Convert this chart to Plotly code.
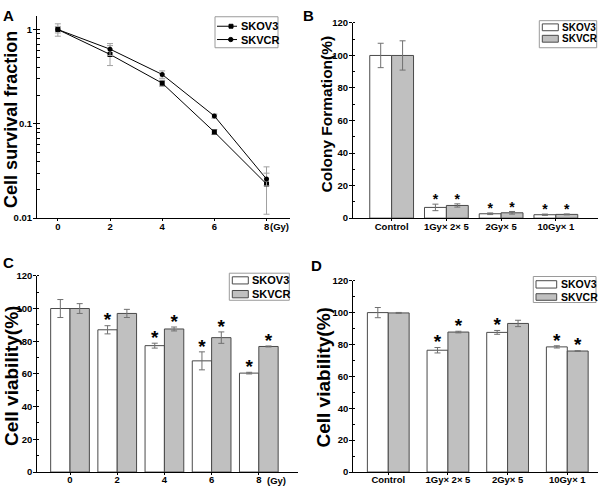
import plotly.graph_objects as go

# ---------------- DATA ----------------
series_names = ["SKOV3", "SKVCR"]

# Panel A: clonogenic survival curve
dose_a = [0, 2, 4, 6, 8]
skov3_surv = [1.0, 0.545, 0.27, 0.082, 0.023]
skov3_surv_err = [0.15, 0.13, 0.02, 0.005, 0.012]
skvcr_surv = [1.0, 0.62, 0.334, 0.121, 0.026]
skvcr_surv_err = [0.08, 0.09, 0.03, 0.006, 0.004]

# Panel B: colony formation
cats_b = ["Control", "1Gy× 2× 5", "2Gy× 5", "10Gy× 1"]
skov3_col = [100, 6.6, 2.7, 2.1]
skov3_col_err = [7.5, 2.0, 0.5, 0.4]
skvcr_col = [100, 7.8, 3.3, 2.3]
skvcr_col_err = [9.0, 1.0, 0.8, 0.3]
sig_b_skov3 = [False, True, True, True]
sig_b_skvcr = [False, True, True, True]

# Panel C: cell viability vs dose
cats_c = ["0", "2", "4", "6", "8"]
skov3_via_c = [100, 87.0, 77.3, 68.0, 60.5]
skov3_via_c_err = [5.5, 2.5, 1.5, 5.5, 0.5]
skvcr_via_c = [100, 97.0, 87.5, 82.2, 76.8]
skvcr_via_c_err = [3.0, 2.5, 1.2, 3.5, 0.3]
sig_c_skov3 = [False, True, True, True, True]
sig_c_skvcr = [False, False, True, True, True]

# Panel D: cell viability vs fractionation
cats_d = ["Control", "1Gy× 2× 5", "2Gy× 5", "10Gy× 1"]
skov3_via_d = [100, 76.4, 87.6, 78.5]
skov3_via_d_err = [3.2, 1.7, 1.2, 0.7]
skvcr_via_d = [99.8, 87.8, 93.2, 75.9]
skvcr_via_d_err = [0.3, 0.5, 2.0, 0.2]
sig_d_skov3 = [False, True, True, True]
sig_d_skvcr = [False, True, False, True]

# ---------------- STYLE ----------------
FONT = "Liberation Sans, Arial, sans-serif"
GREY = "#c0c0c0"
EDGE = "#4a4a4a"
ERRC = "#707070"
LEGEND_EDGE = "#9a9a9a"

fig = go.Figure()


def px_x(p):
    return p / 600.0


def px_y(p):
    return 1 - p / 492.0


# ---------- Panel A ----------
fig.add_trace(go.Scatter(
    x=dose_a, y=skov3_surv, name=series_names[0], mode="lines+markers",
    line=dict(color="black", width=1),
    marker=dict(symbol="square", size=5, color="black"),
    error_y=dict(type="data", array=skov3_surv_err, color="#a0a0a0", thickness=1, width=3),
    xaxis="x", yaxis="y", showlegend=False))
fig.add_trace(go.Scatter(
    x=dose_a, y=skvcr_surv, name=series_names[1], mode="lines+markers",
    line=dict(color="black", width=1),
    marker=dict(symbol="circle", size=5, color="black"),
    error_y=dict(type="data", array=skvcr_surv_err, color="#a0a0a0", thickness=1, width=3),
    xaxis="x", yaxis="y", showlegend=False))


def add_bar_panel(xa, ya, v1, e1, v2, e2, s1, s2, w, star_size, pad):
    idx = list(range(len(v1)))
    fig.add_trace(go.Bar(
        x=idx, y=v1, name=series_names[0], width=w, offset=-w,
        marker=dict(color="white", line=dict(color=EDGE, width=1)),
        error_y=dict(type="data", array=e1, color=ERRC, thickness=1, width=3),
        xaxis=xa, yaxis=ya, showlegend=False))
    fig.add_trace(go.Bar(
        x=idx, y=v2, name=series_names[1], width=w, offset=0,
        marker=dict(color=GREY, line=dict(color=EDGE, width=1)),
        error_y=dict(type="data", array=e2, color=ERRC, thickness=1, width=3),
        xaxis=xa, yaxis=ya, showlegend=False))
    sx, sy = [], []
    for i in idx:
        if s1[i]:
            sx.append(i - w / 2)
            sy.append(v1[i] + e1[i] + pad)
        if s2[i]:
            sx.append(i + w / 2)
            sy.append(v2[i] + e2[i] + pad)
    fig.add_trace(go.Scatter(
        x=sx, y=sy, mode="text", text=["*"] * len(sx),
        textposition="middle center",
        textfont=dict(family=FONT, size=star_size, color="black", weight="bold"),
        showlegend=False, hoverinfo="skip", xaxis=xa, yaxis=ya))


add_bar_panel("x2", "y2", skov3_col, skov3_col_err, skvcr_col, skvcr_col_err,
              sig_b_skov3, sig_b_skvcr, 0.4, 14, 2.0)
add_bar_panel("x3", "y3", skov3_via_c, skov3_via_c_err, skvcr_via_c, skvcr_via_c_err,
              sig_c_skov3, sig_c_skvcr, 0.41, 19, 2.5)
add_bar_panel("x4", "y4", skov3_via_d, skov3_via_d_err, skvcr_via_d, skvcr_via_d_err,
              sig_d_skov3, sig_d_skvcr, 0.35, 19, 2.5)

tickfont = dict(family=FONT, size=9.5, color="black", weight="bold")
common_x = dict(showline=True, linecolor="black", linewidth=1, showgrid=False, zeroline=False,
                ticks="outside", ticklen=2, tickcolor="black", tickfont=tickfont,
                ticklabelstandoff=-3, fixedrange=True)
common_y = dict(showline=True, linecolor="black", linewidth=1, showgrid=False, zeroline=False,
                ticks="outside", ticklen=3, tickcolor="black", tickfont=tickfont,
                ticklabelstandoff=-1, fixedrange=True)

lin_minor = dict(dtick=10, ticks="inside", ticklen=2, tickcolor="black", showgrid=False)

fig.update_layout(
    width=600, height=492,
    margin=dict(l=0, r=0, t=0, b=0),
    paper_bgcolor="white", plot_bgcolor="white",
    font=dict(family=FONT, color="black"),
    barmode="overlay",
    showlegend=False,
    # Panel A axes
    xaxis=dict(common_x, domain=[px_x(37), px_x(290)], range=[-0.8, 8.9],
               tickvals=dose_a, ticktext=[str(d) for d in dose_a], anchor="y"),
    yaxis=dict(common_y, domain=[px_y(217), px_y(10)], type="log", range=[-2, 0.146],
               tickvals=[0.01, 0.1, 1], ticktext=["0.01", "0.1", "1"], anchor="x",
               minor=dict(dtick="D1", ticks="inside", ticklen=3, tickcolor="black",
                          showgrid=False)),
    # Panel B axes
    xaxis2=dict(common_x, domain=[px_x(353), px_x(598)], range=[-0.706, 3.77],
                tickvals=list(range(len(cats_b))), ticktext=cats_b, anchor="y2"),
    yaxis2=dict(common_y, domain=[px_y(217), px_y(17.3)], range=[0, 120], dtick=20,
                anchor="x2", minor=lin_minor),
    # Panel C axes
    xaxis3=dict(common_x, domain=[px_x(37.3), px_x(298)], range=[-0.693, 4.83],
                tickvals=list(range(len(cats_c))), ticktext=cats_c, anchor="y3"),
    yaxis3=dict(common_y, domain=[px_y(476.7), px_y(276)], range=[0, 120], dtick=20,
                anchor="x3", minor=lin_minor),
    # Panel D axes
    xaxis4=dict(common_x, domain=[px_x(353.3), px_x(598.3)], range=[-0.586, 3.52],
                tickvals=list(range(len(cats_d))), ticktext=cats_d, anchor="y4"),
    yaxis4=dict(common_y, domain=[px_y(476.7), px_y(281)], range=[0, 120], dtick=20,
                anchor="x4", minor=lin_minor),
)


# ---------- compact legend boxes (drawn as layout shapes + text) ----------
def rect(x0, y0, x1, y1, fill, line_color, lw=1):
    fig.add_shape(type="rect", xref="paper", yref="paper",
                  x0=px_x(x0), x1=px_x(x1), y0=px_y(y1), y1=px_y(y0),
                  fillcolor=fill, line=dict(color=line_color, width=lw), layer="above")


def legend_text(txt, x, y, size):
    fig.add_annotation(text=txt, x=px_x(x), y=px_y(y), xref="paper", yref="paper",
                       xanchor="left", yanchor="middle", showarrow=False,
                       font=dict(family=FONT, size=size, color="black", weight="bold"))


def bar_legend(box, sw_x0, sw_x1, rows, text_x, size):
    rect(*box, "white", LEGEND_EDGE)
    fills = ["white", GREY]
    for (y0, y1), name, f in zip(rows, series_names, fills):
        rect(sw_x0, y0, sw_x1, y1, f, EDGE)
        legend_text(name, text_x, (y0 + y1) / 2, size)


# Panel A legend (line + marker samples)
rect(215, 11, 278, 42.7, "white", LEGEND_EDGE)
for yc, name, sym in zip([20.7, 34.3], series_names, ["square", "circle"]):
    fig.add_shape(type="line", xref="paper", yref="paper",
                  x0=px_x(217), x1=px_x(237), y0=px_y(yc), y1=px_y(yc),
                  line=dict(color="black", width=1), layer="above")
    if sym == "square":
        rect(229, yc - 2, 233, yc + 2, "black", "black")
    else:
        fig.add_shape(type="circle", xref="paper", yref="paper",
                      x0=px_x(228.5), x1=px_x(233), y0=px_y(yc + 2.2), y1=px_y(yc - 2.2),
                      fillcolor="black", line=dict(color="black", width=1), layer="above")
    legend_text(name, 239, yc, 11)

bar_legend((539.3, 15, 596.7, 42.7), 542.3, 558.3, [(18.3, 25.3), (30, 37)], 560, 10)
bar_legend((229.3, 273.3, 289.3, 301), 232.3, 248.3, [(277, 284.3), (291, 298.5)], 250, 11)
bar_legend((533.3, 276.7, 596, 303.3), 536, 556.7, [(281, 288.5), (294.3, 301)], 559, 10.5)

# ---------- panel letters ----------
for txt, xp, yp in [("A", 1, -1), ("B", 301, -1), ("C", 1, 252), ("D", 309, 255)]:
    fig.add_annotation(text=txt, x=px_x(xp), y=px_y(yp), xref="paper", yref="paper",
                       xanchor="left", yanchor="top", showarrow=False,
                       font=dict(family=FONT, size=15, color="black", weight="bold"))

# ---------- axis titles ----------
titles = [
    ("Cell survival fraction", 11, 116.5, 18),
    ("Colony Formation(%)", 327, 111, 15.5),
    ("Cell viability(%)", 11.5, 379, 19),
    ("Cell viability(%)", 324, 380, 19),
]
for t, xp, yp, sz in titles:
    fig.add_annotation(text=t, x=px_x(xp), y=px_y(yp), xref="paper", yref="paper",
                       xanchor="center", yanchor="middle", textangle=-90, showarrow=False,
                       font=dict(family=FONT, size=sz, color="black", weight="bold"))

# unit labels next to the last dose tick
fig.add_annotation(text="(Gy)", x=8, y=0, xref="x", yref="y domain",
                   xanchor="left", yanchor="top", showarrow=False, xshift=1, yshift=-1,
                   font=dict(family=FONT, size=9.5, color="black", weight="bold"))
fig.add_annotation(text="(Gy)", x=4, y=0, xref="x3", yref="y3 domain",
                   xanchor="left", yanchor="top", showarrow=False, xshift=6, yshift=-1,
                   font=dict(family=FONT, size=9.5, color="black", weight="bold"))

fig.write_html("out.html", config={"displayModeBar": False},
               post_script="document.body.style.margin='0';")
